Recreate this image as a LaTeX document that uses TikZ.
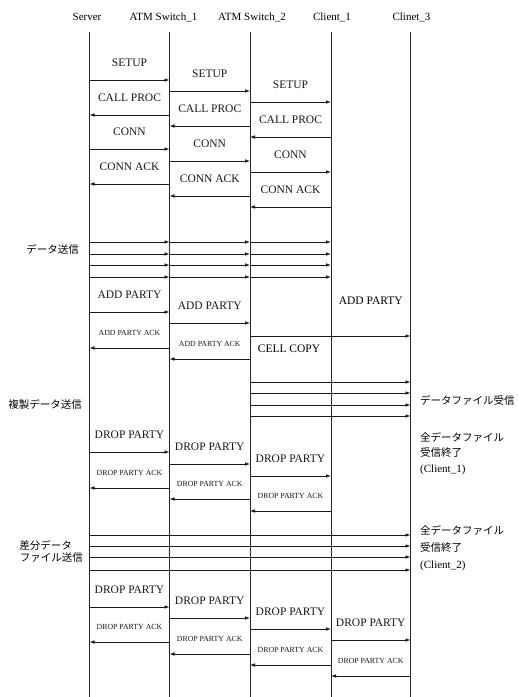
\documentclass[tikz,border=0pt]{standalone}
\usepackage{fontspec}
\setmainfont{Liberation Serif}
\newfontfamily\jpfont{Noto Sans CJK JP}
\usetikzlibrary{arrows.meta}
\newcommand\msgarrow[5]{\draw[msgline] (#1|-0,#3) -- (#2|-0,#3) node[midway,#5]{#4};}
\newcommand\datarrow[3]{\draw[msgline] (#1|-0,#3) -- (#2|-0,#3);}
\begin{document}
\begin{tikzpicture}[x=1pt,y=-1pt,
  life/.style={line width=0.7pt, black!85},
  msgline/.style={line width=0.8pt, black!90, -{Latex[length=5pt,width=3.6pt]}},
  big/.style={font=\fontsize{11.5}{12}\selectfont, yshift=17pt, inner sep=0pt},
  small/.style={font=\fontsize{7.8}{9}\selectfont, yshift=15pt, inner sep=0pt},
  head/.style={font=\fontsize{11}{12}\selectfont, inner sep=0pt},
  jpl/.style={font=\jpfont\fontsize{10.5}{12}\selectfont, inner sep=0pt},
  rlab/.style={font=\fontsize{11}{12}\selectfont, inner sep=0pt}]
\useasboundingbox (0,0) rectangle (518,697);
\fill[white] (0,0) rectangle (518,697);

% lifelines
\coordinate (S) at (89.5,32);  \coordinate (Sb) at (89.5,697);
\coordinate (A) at (169.5,32); \coordinate (Ab) at (169.5,697);
\coordinate (B) at (250,32);   \coordinate (Bb) at (250,697);
\coordinate (C) at (331,32);   \coordinate (Cb) at (331,697);
\coordinate (D) at (410.5,32); \coordinate (Db) at (410.5,697);
\foreach \t in {S,A,B,C,D} \draw[life] (\t) -- (\t b);

% headers
\node[head] (hS) at (87,17) {Server};
\node[head] (hA) at (163.5,17) {ATM Switch\_1};
\node[head] (hB) at (252,17) {ATM Switch\_2};
\node[head] (hC) at (332,17) {Client\_1};
\node[head] (hD) at (411.5,17) {Clinet\_3};

% connection setup
\msgarrow{S}{A}{80}{SETUP}{big}
\msgarrow{A}{B}{91}{SETUP}{big}
\msgarrow{B}{C}{102}{SETUP}{big}
\msgarrow{A}{S}{115}{CALL PROC}{big}
\msgarrow{B}{A}{126}{CALL PROC}{big}
\msgarrow{C}{B}{137}{CALL PROC}{big}
\msgarrow{S}{A}{149}{CONN}{big}
\msgarrow{A}{B}{161}{CONN}{big}
\msgarrow{B}{C}{172}{CONN}{big}
\msgarrow{A}{S}{184}{CONN ACK}{big}
\msgarrow{B}{A}{196}{CONN ACK}{big}
\msgarrow{C}{B}{207}{CONN ACK}{big}

% data
\foreach \y in {242,254,265,277}{
  \datarrow{S}{A}{\y}
  \datarrow{A}{B}{\y}
  \datarrow{B}{C}{\y}
}
\node[jpl,anchor=east] (ld1) at (79,249) {データ送信};

% add party
\msgarrow{S}{A}{312}{ADD PARTY}{big}
\msgarrow{A}{B}{323}{ADD PARTY}{big}
\datarrow{B}{D}{336}
\node[big,yshift=0pt] (ap3) at (370.75,318) {ADD PARTY};
\msgarrow{A}{S}{348}{ADD PARTY ACK}{small}
\msgarrow{B}{A}{359}{ADD PARTY ACK}{small}
\node[big,yshift=0pt] (cc) at (289,366) {CELL COPY};
\foreach \y in {382,393,405,416}{\datarrow{B}{D}{\y}}
\node[jpl,anchor=east] (ld2) at (82,404) {複製データ送信};
\node[jpl,anchor=west] (rd1) at (420,400) {データファイル受信};

% drop party (Client_1)
\msgarrow{S}{A}{452}{DROP PARTY}{big}
\msgarrow{A}{B}{464}{DROP PARTY}{big}
\msgarrow{B}{C}{476}{DROP PARTY}{big}
\msgarrow{A}{S}{488}{DROP PARTY ACK}{small}
\msgarrow{B}{A}{499}{DROP PARTY ACK}{small}
\msgarrow{C}{B}{511}{DROP PARTY ACK}{small}
\node[jpl,anchor=west] (rc1a) at (420,437) {全データファイル};
\node[jpl,anchor=west] (rc1b) at (420,453) {受信終了};
\node[rlab,anchor=west] (rc1c) at (420,470) {(Client\_1)};

% differential data
\foreach \y in {535,546,557,570}{\datarrow{S}{D}{\y}}
\node[jpl,anchor=east] (ld3a) at (72,545) {差分データ};
\node[jpl,anchor=east] (ld3b) at (83,558) {ファイル送信};
\node[jpl,anchor=west] (rc2a) at (420,530) {全データファイル};
\node[jpl,anchor=west] (rc2b) at (420,548) {受信終了};
\node[rlab,anchor=west] (rc2c) at (420,566) {(Client\_2)};

% drop party (Client_2)
\msgarrow{S}{A}{607}{DROP PARTY}{big}
\msgarrow{A}{B}{618}{DROP PARTY}{big}
\msgarrow{B}{C}{629}{DROP PARTY}{big}
\msgarrow{C}{D}{640}{DROP PARTY}{big}
\msgarrow{A}{S}{642}{DROP PARTY ACK}{small}
\msgarrow{B}{A}{654}{DROP PARTY ACK}{small}
\msgarrow{C}{B}{665}{DROP PARTY ACK}{small}
\msgarrow{D}{C}{676}{DROP PARTY ACK}{small}
\end{tikzpicture}
\end{document}
